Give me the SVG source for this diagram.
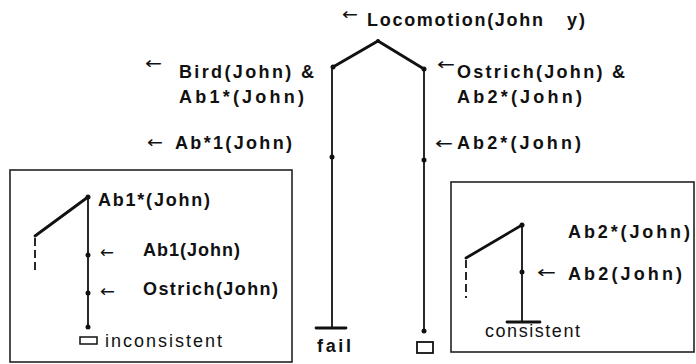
<svg xmlns="http://www.w3.org/2000/svg" width="696" height="364" viewBox="0 0 696 364">
  <style>
    .lbl{font-family:"Liberation Sans",Arial,sans-serif;font-weight:bold;font-size:18px;fill:#111}
    .reg{font-family:"Liberation Sans",Arial,sans-serif;font-size:18px;fill:#111}
    .arr{font-family:"DejaVu Sans",sans-serif;font-size:17px;fill:#111}
    .edge{stroke:#111;fill:none;stroke-width:1.8;stroke-linecap:round}
    .thick{stroke-width:2.8}
    .dash{stroke-dasharray:8 4;stroke-linecap:butt}
    .frame{fill:none;stroke:#222;stroke-width:1.6}
    .dot{fill:#111}
    .box{fill:#fff;stroke:#111;stroke-width:1.8}
  </style>
  <rect width="696" height="364" fill="#fff"/>

  <!-- panels -->
  <rect class="frame" x="10" y="170" width="282" height="192"/>
  <rect class="frame" x="451" y="182" width="243" height="170"/>

  <!-- connectors -->
  <g id="connectors">
    <path class="edge thick" d="M333,67 L378,41 L424,69"/>
    <path class="edge" d="M332,67 V328"/>
    <path class="edge" d="M424,69 V331"/>
    <path class="edge thick" d="M316,328 H346"/>
    <path class="edge thick" d="M35,236 L88,197"/>
    <path class="edge" d="M88,197 V327"/>
    <path class="edge dash" d="M35,238 V274"/>
    <path class="edge thick" d="M466,258 L522,225"/>
    <path class="edge" d="M522,225 V322"/>
    <path class="edge dash" d="M466,260 V298"/>
    <path class="edge thick" d="M507,322 H540"/>
  </g>

  <!-- main tree -->
  <g id="locomotion">
    <circle class="dot" cx="378" cy="41" r="2"/>
    <text class="arr" x="342" y="20" textLength="16" lengthAdjust="spacingAndGlyphs">←</text>
    <text class="lbl" x="367" y="26" textLength="176" lengthAdjust="spacing">Locomotion(John</text>
    <text class="lbl" x="567" y="26" textLength="18" lengthAdjust="spacing">y)</text>
  </g>
  <g id="bird">
    <circle class="dot" cx="333" cy="67" r="2.5"/>
    <text class="arr" x="145" y="69" textLength="17" lengthAdjust="spacingAndGlyphs">←</text>
    <text class="lbl" x="179" y="78" textLength="135" lengthAdjust="spacing">Bird(John) &amp;</text>
    <text class="lbl" x="179" y="103" textLength="125" lengthAdjust="spacing">Ab1*(John)</text>
  </g>
  <g id="ab1-left">
    <circle class="dot" cx="332" cy="157" r="2.5"/>
    <text class="arr" x="147" y="148" textLength="16" lengthAdjust="spacingAndGlyphs">←</text>
    <text class="lbl" x="175" y="149" textLength="117" lengthAdjust="spacing">Ab*1(John)</text>
  </g>
  <g id="fail">
    <text class="lbl" x="317" y="352" textLength="34" lengthAdjust="spacing">fail</text>
  </g>
  <g id="ostrich">
    <circle class="dot" cx="424" cy="69" r="2.5"/>
    <text class="arr" x="437" y="70" textLength="18" lengthAdjust="spacingAndGlyphs">←</text>
    <text class="lbl" x="457" y="78" textLength="168" lengthAdjust="spacing">Ostrich(John) &amp;</text>
    <text class="lbl" x="457" y="103" textLength="125" lengthAdjust="spacing">Ab2*(John)</text>
  </g>
  <g id="ab2-right">
    <circle class="dot" cx="424" cy="160" r="2.5"/>
    <text class="arr" x="435" y="149" textLength="18" lengthAdjust="spacingAndGlyphs">←</text>
    <text class="lbl" x="457" y="149" textLength="124" lengthAdjust="spacing">Ab2*(John)</text>
  </g>
  <g id="success">
    <circle class="dot" cx="424" cy="331" r="2.5"/>
    <rect class="box" x="417" y="342" width="16" height="11"/>
  </g>

  <!-- left panel: inconsistent branch -->
  <g id="panel-ab1star">
    <circle class="dot" cx="88" cy="197" r="2.5"/>
    <text class="lbl" x="98" y="206" textLength="112" lengthAdjust="spacing">Ab1*(John)</text>
  </g>
  <g id="panel-ab1">
    <circle class="dot" cx="88" cy="255" r="2.5"/>
    <text class="arr" x="100" y="258" textLength="14" lengthAdjust="spacingAndGlyphs">←</text>
    <text class="lbl" x="143" y="256" textLength="97" lengthAdjust="spacing">Ab1(John)</text>
  </g>
  <g id="panel-ostrich">
    <circle class="dot" cx="88" cy="293" r="2.5"/>
    <text class="arr" x="100" y="297" textLength="15" lengthAdjust="spacingAndGlyphs">←</text>
    <text class="lbl" x="143" y="295" textLength="135" lengthAdjust="spacing">Ostrich(John)</text>
  </g>
  <g id="panel-inconsistent">
    <circle class="dot" cx="88" cy="327" r="2.5"/>
    <rect class="box" x="80" y="337" width="17" height="7" style="stroke-width:1.5"/>
    <text class="reg" x="105" y="347" textLength="117" lengthAdjust="spacing">inconsistent</text>
  </g>

  <!-- right panel: consistent branch -->
  <g id="panel-ab2star">
    <circle class="dot" cx="522" cy="225" r="2.5"/>
    <text class="lbl" x="568" y="238" textLength="122" lengthAdjust="spacing">Ab2*(John)</text>
  </g>
  <g id="panel-ab2">
    <circle class="dot" cx="522" cy="272" r="2.5"/>
    <text class="arr" x="537" y="278" textLength="19" lengthAdjust="spacingAndGlyphs">←</text>
    <text class="lbl" x="568" y="280" textLength="114" lengthAdjust="spacing">Ab2(John)</text>
  </g>
  <g id="panel-consistent">
    <text class="reg" x="485" y="337" textLength="95" lengthAdjust="spacing">consistent</text>
  </g>
</svg>
